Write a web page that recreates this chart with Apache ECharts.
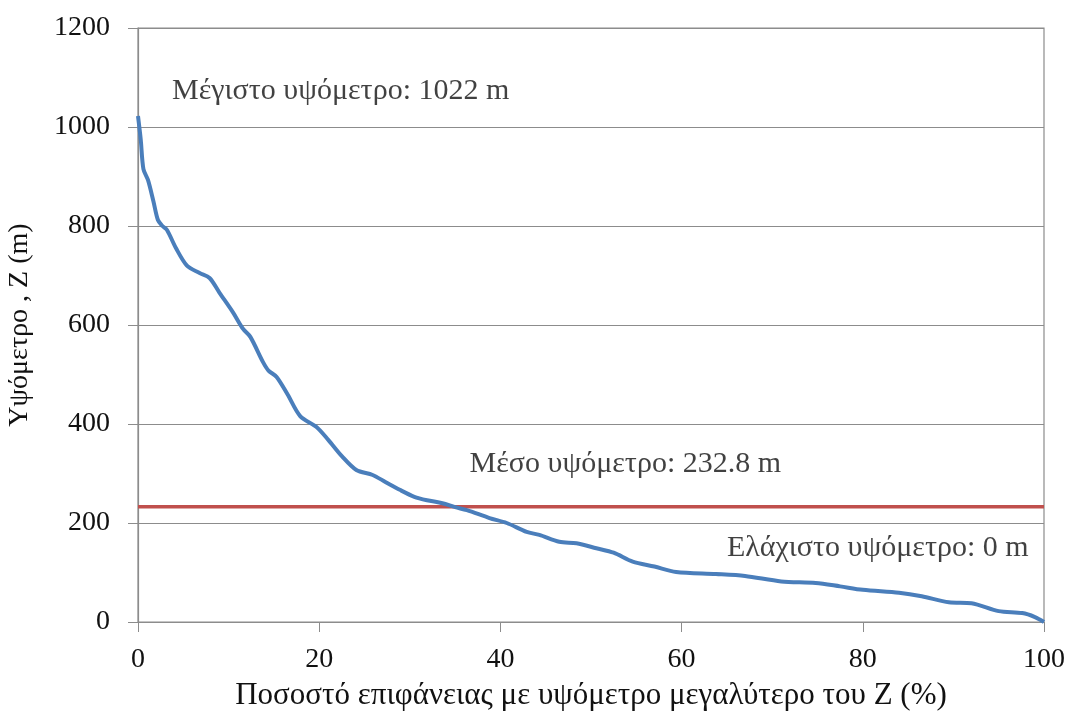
<!DOCTYPE html>
<html>
<head>
<meta charset="utf-8">
<script src="https://cdn.jsdelivr.net/npm/echarts@6/dist/echarts.min.js"></script>
<style>
  html, body { margin: 0; padding: 0; background: #fff; }
  #chart { width: 1069px; height: 718px; }
</style>
</head>
<body>
<div id="chart"></div>
<script>
// Hypsometric curve: % of area above elevation Z
const areaPct = [0, 0.3, 0.6, 1.1, 1.7, 2.2, 2.7, 3.2, 4.2, 5.4, 6.8, 7.9, 9.0, 10.5, 11.6, 12.4, 13.8, 14.4, 15.3, 16.5, 17.9, 19.7, 21, 22.5, 24.1, 25.9, 27.3, 28.9, 30.5, 31.9, 33.6, 35, 36.3, 38.8, 40.7, 42.9, 44.3, 46.5, 48.4, 50.6, 52.5, 54.6, 57, 59.4, 63.8, 67, 71, 74.8, 77.5, 80, 84, 86.5, 89.5, 92, 95, 97.6, 99, 100];
const elevation = [1022, 975, 915, 893, 850, 812, 800, 792, 755, 720, 705, 695, 665, 625, 592, 576, 525, 508, 495, 460, 416, 394, 368, 335, 307, 297, 283, 267, 253, 246, 240, 232, 226, 210, 200, 182, 176, 162, 159, 149, 140, 122, 112, 101, 97, 93, 82, 79, 72, 65, 59, 52, 40, 38, 22, 18, 10, 0];

const maxElev = 1022;
const meanElev = 232.8;
const minElev = 0;

const xTicks = [0, 20, 40, 60, 80, 100];
const yTicks = [0, 200, 400, 600, 800, 1000, 1200];

const xTitle = 'Ποσοστό επιφάνειας με υψόμετρο μεγαλύτερο του Z (%)';
const yTitle = 'Υψόμετρο , Z (m)';

// Annotation texts and their anchor coordinates (data space)
const notes = [
  { text: 'Μέγιστο υψόμετρο: ' + maxElev + ' m', at: [3.75, 1073], align: 'left' },
  { text: 'Μέσο υψόμετρο: ' + meanElev + ' m', at: [36.6, 319], align: 'left' },
  { text: 'Ελάχιστο υψόμετρο: ' + minElev + ' m', at: [98.3, 149.5], align: 'right' }
];

const FONT = '"Liberation Serif", "Times New Roman", serif';
const TICK_FS = 28;
const NOTE_FS = 30;
const TITLE_FS = 31;
const TEXT = '#111111';
const AXIS = '#8c8c8c';

const chart = echarts.init(document.getElementById('chart'), null, { renderer: 'canvas' });

chart.setOption({
  animation: false,
  backgroundColor: '#ffffff',
  grid: {
    left: 138, right: 25, top: 28, bottom: 96,
    outerBoundsMode: 'none',
    containLabel: false,
    show: true, borderColor: AXIS, borderWidth: 1.2, backgroundColor: 'transparent'
  },
  xAxis: {
    type: 'value',
    min: xTicks[0], max: xTicks[xTicks.length - 1], interval: 20,
    name: xTitle, nameLocation: 'middle', nameGap: 58,
    nameTextStyle: { fontFamily: FONT, fontSize: TITLE_FS, color: TEXT },
    axisLine: { show: true, lineStyle: { color: AXIS, width: 1.2 } },
    axisTick: { show: true, inside: false, length: 10, lineStyle: { color: AXIS } },
    axisLabel: { margin: 24, fontFamily: FONT, fontSize: TICK_FS, color: TEXT, formatter: v => String(v) },
    splitLine: { show: false }
  },
  yAxis: {
    type: 'value',
    min: yTicks[0], max: yTicks[yTicks.length - 1], interval: 200,
    name: yTitle, nameLocation: 'middle', nameGap: 104, nameRotate: 90,
    nameTextStyle: { fontFamily: FONT, fontSize: TITLE_FS - 3, color: TEXT },
    axisLine: { show: true, lineStyle: { color: AXIS, width: 1.2 } },
    axisTick: { show: true, inside: false, length: 10, lineStyle: { color: AXIS } },
    axisLabel: { margin: 28, fontFamily: FONT, fontSize: TICK_FS, color: TEXT, formatter: v => String(v) },
    splitLine: { show: true, lineStyle: { color: AXIS, width: 1.2 } }
  },
  series: [
    {
      name: 'mean',
      type: 'line',
      data: [[xTicks[0], meanElev], [xTicks[xTicks.length - 1], meanElev]],
      symbol: 'none',
      lineStyle: { color: '#c0504d', width: 3.5 },
      z: 3
    },
    {
      name: 'hypsometric',
      type: 'line',
      data: areaPct.map((p, i) => [p, elevation[i]]),
      symbol: 'none',
      smooth: 0.3,
      lineStyle: { color: '#4a7ebb', width: 4 },
      z: 4
    },
    {
      name: 'notes',
      type: 'scatter',
      symbolSize: 0,
      silent: true,
      data: notes.map(n => ({
        value: n.at,
        label: {
          show: true,
          formatter: n.text,
          position: n.align === 'left' ? 'right' : 'left',
          distance: 0,
          fontFamily: FONT, fontSize: NOTE_FS, color: TEXT
        }
      })),
      z: 5
    }
  ]
});
</script>
</body>
</html>
